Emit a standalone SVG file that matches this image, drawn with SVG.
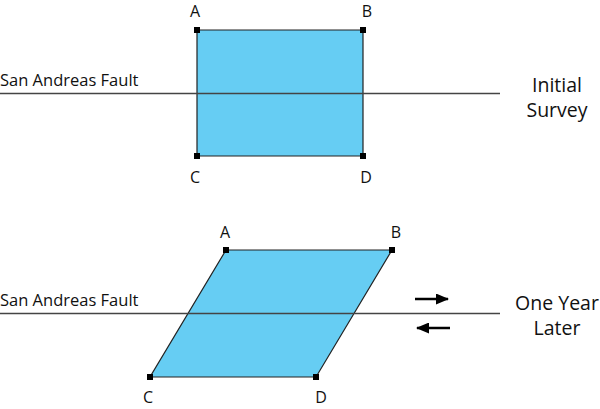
<svg xmlns="http://www.w3.org/2000/svg" width="600" height="409" viewBox="0 0 600 409">
<style>
.shape{fill:#66cdf3;stroke:#222;stroke-width:1.2}
.fault{stroke:#444;stroke-width:1.3;fill:none}
.pt{fill:#000}
.lbl{font-family:"Open Sans","Liberation Sans",sans-serif;font-size:16px;fill:#111;text-anchor:middle}
.flt{font-family:"Open Sans","Liberation Sans",sans-serif;font-size:16.5px;fill:#111}
.ttl{font-family:"Open Sans","Liberation Sans",sans-serif;font-size:19.5px;fill:#111;text-anchor:middle}
.arr{stroke:#000;stroke-width:2.4;fill:none}
</style>
<defs>
<marker id="ah" viewBox="0 0 13 11" refX="12" refY="5.5" markerWidth="13" markerHeight="11" orient="auto" markerUnits="userSpaceOnUse">
<path d="M0,0 L13,5.5 L0,11 Z" fill="#000"/>
</marker>
</defs>
<g id="initial">
<polygon class="shape" points="197,30 363,30 363,156 197,156"/>
</g>
<g id="later">
<polygon class="shape" points="226,250 392,250 316,377 150,377"/>
</g>
<g id="connectors">
<line class="fault" x1="0" y1="93.5" x2="500" y2="93.5"/>
<line class="fault" x1="0" y1="313.5" x2="500" y2="313.5"/>
<line class="arr" x1="415" y1="299" x2="448" y2="299" marker-end="url(#ah)"/>
<line class="arr" x1="450" y1="328" x2="417" y2="328" marker-end="url(#ah)"/>
</g>
<g id="points">
<rect class="pt" x="194" y="27" width="6" height="6"/>
<rect class="pt" x="360" y="27" width="6" height="6"/>
<rect class="pt" x="194" y="153" width="6" height="6"/>
<rect class="pt" x="360" y="153" width="6" height="6"/>
<rect class="pt" x="223" y="247" width="6" height="6"/>
<rect class="pt" x="389" y="247" width="6" height="6"/>
<rect class="pt" x="147" y="374" width="6" height="6"/>
<rect class="pt" x="313" y="374" width="6" height="6"/>
</g>
<g id="labels">
<text class="lbl" x="195" y="17">A</text>
<text class="lbl" x="367" y="17">B</text>
<text class="lbl" x="195" y="183">C</text>
<text class="lbl" x="366" y="183">D</text>
<text class="lbl" x="225" y="238">A</text>
<text class="lbl" x="396" y="238">B</text>
<text class="lbl" x="148" y="403">C</text>
<text class="lbl" x="321" y="403">D</text>
<text class="flt" x="0" y="86">San Andreas Fault</text>
<text class="flt" x="0" y="306">San Andreas Fault</text>
<text class="ttl" x="557" y="92">Initial</text>
<text class="ttl" x="557" y="117">Survey</text>
<text class="ttl" x="557" y="310">One Year</text>
<text class="ttl" x="557" y="335">Later</text>
</g>
</svg>
